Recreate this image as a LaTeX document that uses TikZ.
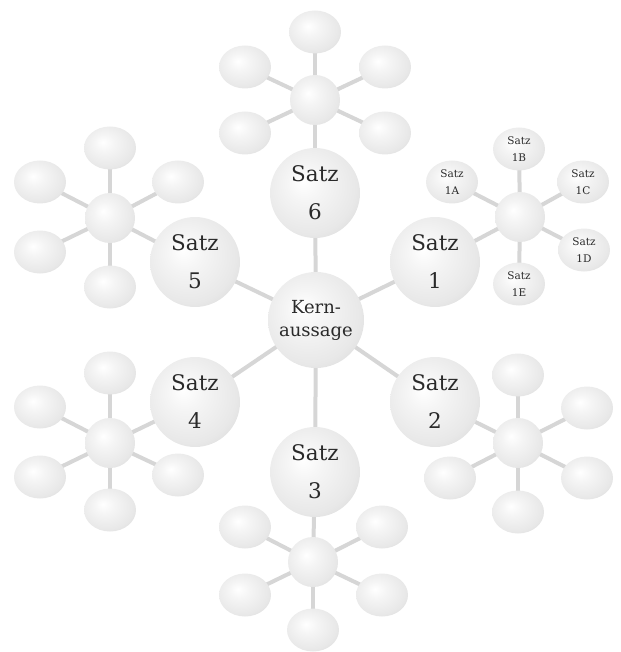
\documentclass[tikz,border=0pt]{standalone}
\usepackage{fontspec}
\setmainfont{DejaVu Serif}
\usetikzlibrary{shapes.geometric,backgrounds}
\definecolor{linec}{HTML}{D6D6D6}
\definecolor{txt}{HTML}{2A2A2A}
\pgfdeclareradialshading{softball}{\pgfpoint{-7bp}{7bp}}{color(0bp)=(white); color(10bp)=(white!96!black); color(26bp)=(white!91!black); color(34bp)=(white!86!black); color(50bp)=(white!86!black)}
\begin{document}
\begin{tikzpicture}[x=1pt,y=-1pt,
  ball/.style={shade, shading=softball, draw=none, inner sep=0pt, text=txt, align=center},
  big/.style={ball, circle, minimum size=90pt, font=\fontsize{21.5}{38}\selectfont},
  kern/.style={ball, circle, minimum size=96pt, font=\fontsize{18}{23}\selectfont},
  hub/.style={ball, circle, minimum size=50pt},
  sat/.style={ball, ellipse, minimum width=52pt, minimum height=43pt, font=\fontsize{10.5}{17}\selectfont},
  conn/.style={draw=linec, line width=4pt}]
\useasboundingbox (0,0) rectangle (620,652);
% centre
\node[kern] (K) at (316,320) {Kern-\\aussage};
\node[big] (S1) at (435,262) {Satz\\1};
\node[big] (S2) at (435,402) {Satz\\2};
\node[big] (S3) at (315,472) {Satz\\3};
\node[big] (S4) at (195,402) {Satz\\4};
\node[big] (S5) at (195,262) {Satz\\5};
\node[big] (S6) at (315,193) {Satz\\6};
% cluster 1
\node[hub] (H1) at (520,217) {};
\node[sat] (A1) at (452,182) {Satz\\1A};
\node[sat] (B1) at (519,149) {Satz\\1B};
\node[sat] (C1) at (583,182) {Satz\\1C};
\node[sat] (D1) at (584,250) {Satz\\1D};
\node[sat] (E1) at (519,284) {Satz\\1E};
% cluster 6
\node[hub] (H6) at (315,100) {};
\node[sat] (A6) at (315,32) {};
\node[sat] (B6) at (245,67) {};
\node[sat] (C6) at (385,67) {};
\node[sat] (D6) at (245,133) {};
\node[sat] (E6) at (385,133) {};
% cluster 5
\node[hub] (H5) at (110,218) {};
\node[sat] (A5) at (110,148) {};
\node[sat] (B5) at (40,182) {};
\node[sat] (C5) at (178,182) {};
\node[sat] (D5) at (40,252) {};
\node[sat] (E5) at (110,287) {};
% cluster 4
\node[hub] (H4) at (110,443) {};
\node[sat] (A4) at (110,373) {};
\node[sat] (B4) at (40,407) {};
\node[sat] (C4) at (40,477) {};
\node[sat] (D4) at (110,510) {};
\node[sat] (E4) at (178,475) {};
% cluster 2
\node[hub] (H2) at (518,443) {};
\node[sat] (A2) at (518,375) {};
\node[sat] (B2) at (587,408) {};
\node[sat] (C2) at (587,478) {};
\node[sat] (D2) at (518,512) {};
\node[sat] (E2) at (450,478) {};
% cluster 3
\node[hub] (H3) at (313,562) {};
\node[sat] (A3) at (245,527) {};
\node[sat] (B3) at (382,527) {};
\node[sat] (C3) at (245,595) {};
\node[sat] (D3) at (382,595) {};
\node[sat] (E3) at (313,630) {};
\begin{scope}[on background layer]
  \foreach \i in {1,...,6} {
    \draw[conn] (K.center) -- (S\i.center);
    \draw[conn] (S\i.center) -- (H\i.center);
    \foreach \s in {A,B,C,D,E} {
      \draw[conn] (H\i.center) -- (\s\i.center);
    }
  }
\end{scope}
\end{tikzpicture}
\end{document}
